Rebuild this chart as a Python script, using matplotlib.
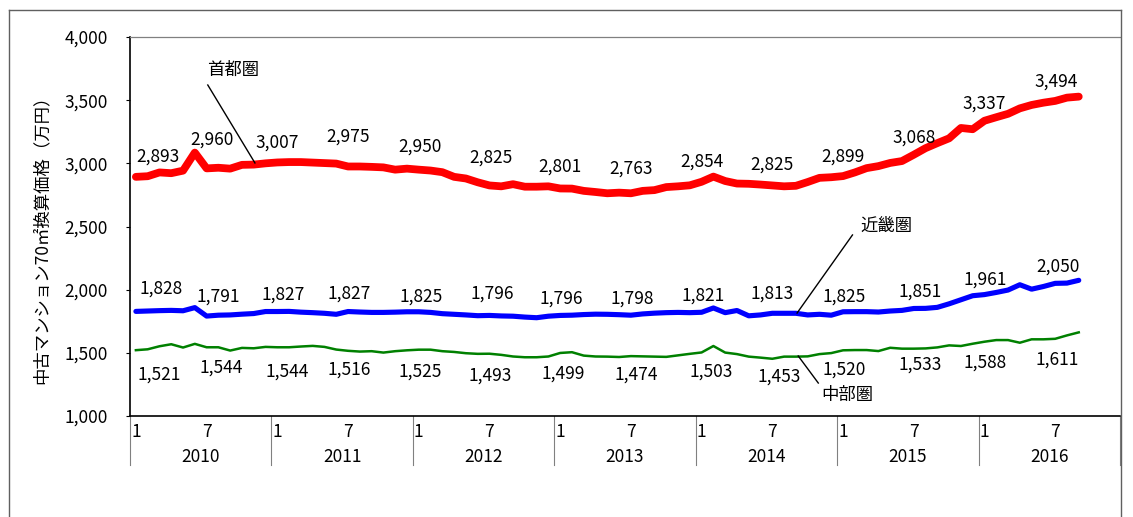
import numpy as np
import matplotlib
matplotlib.use('Agg')
import matplotlib.pyplot as plt
from matplotlib.lines import Line2D
import matplotlib.transforms as mtransforms

plt.rcParams['font.family'] = ['Noto Sans CJK JP', 'DejaVu Sans']

## data: monthly, Jan 2010 - Sep 2016
years = ['2010', '2011', '2012', '2013', '2014', '2015', '2016']
month_labels = ['1', '7']

shuto = [2893, 2898, 2928, 2922, 2942, 3085, 2960, 2965, 2958, 2988, 2990, 3000,
         3007, 3010, 3010, 3006, 3002, 2998, 2975, 2975, 2972, 2968, 2950, 2958,
         2950, 2943, 2930, 2893, 2880, 2850, 2825, 2818, 2835, 2815, 2815, 2818,
         2801, 2800, 2782, 2773, 2763, 2768, 2763, 2782, 2788, 2812, 2818, 2826,
         2854, 2895, 2860, 2840, 2838, 2832, 2825, 2818, 2822, 2852, 2885, 2890,
         2899, 2928, 2962, 2978, 3003, 3018, 3068, 3120, 3160, 3198, 3280, 3270,
         3337, 3365, 3392, 3435, 3462, 3480, 3494, 3520, 3528]

kinki = [1828, 1831, 1834, 1836, 1833, 1858, 1791, 1798, 1800, 1806, 1811, 1827,
         1827, 1828, 1822, 1818, 1813, 1805, 1827, 1823, 1820, 1820, 1822, 1825,
         1825, 1820, 1810, 1805, 1800, 1794, 1796, 1792, 1790, 1783, 1778, 1790,
         1796, 1798, 1803, 1806, 1805, 1802, 1798, 1808, 1814, 1818, 1820, 1818,
         1821, 1855, 1818, 1835, 1793, 1800, 1813, 1813, 1813, 1800, 1805, 1798,
         1825, 1826, 1826, 1823, 1831, 1836, 1851, 1852, 1860, 1888, 1920, 1952,
         1961, 1978, 1997, 2039, 2004, 2025, 2050, 2052, 2074]

chubu = [1521, 1528, 1552, 1568, 1542, 1571, 1544, 1544, 1518, 1539, 1536, 1547,
         1544, 1544, 1550, 1555, 1547, 1526, 1516, 1510, 1513, 1502, 1513, 1520,
         1525, 1525, 1513, 1507, 1497, 1492, 1493, 1484, 1471, 1465, 1465, 1471,
         1499, 1505, 1478, 1471, 1470, 1467, 1474, 1472, 1470, 1468, 1480, 1492,
         1503, 1554, 1502, 1490, 1470, 1462, 1453, 1470, 1470, 1472, 1490, 1498,
         1520, 1522, 1522, 1514, 1540, 1533, 1533, 1535, 1543, 1559, 1554, 1572,
         1588, 1601, 1601, 1580, 1607, 1607, 1611, 1638, 1662]

## label offsets in pixels (dx, dy)
red_off = [(22, 20), (5, 29), (0, 20), (0, 30), (1, 23), (1, 28), (0, 22),
           (0, 25), (0, 20), (0, 21), (0, 19), (0, 17), (0, 17), (1, 19)]
blue_off = [(25, 23), (12, 19), (6, 17), (1, 18), (2, 15), (3, 22), (1, 17),
            (1, 17), (2, 17), (0, 20), (1, 15), (6, 17), (1, 15), (3, 17)]
green_off = [(23, -24), (15, -20), (10, -24), (1, -19), (1, -22), (1, -22), (3, -21),
             (5, -19), (10, -19), (7, -18), (1, -19), (6, -16), (1, -21), (2, -21)]

FS = 12.5
W, H = 1133, 517
fig = plt.figure(figsize=(W / 100, H / 100), dpi=100)
ax = fig.add_axes([130 / W, 1 - 416 / H, 990 / W, 379 / H])

x = np.arange(len(shuto)) + 0.5
ax.plot(x, shuto, color='#ff0000', lw=5.6, solid_capstyle='round', solid_joinstyle='round')
ax.plot(x, kinki, color='#0000ff', lw=3.7, solid_capstyle='round', solid_joinstyle='round')
ax.plot(x, chubu, color='#008000', lw=1.8)

# data labels at month 1 and 7
idx = list(range(0, len(shuto), 6))
for series, offs in [(shuto, red_off), (kinki, blue_off), (chubu, green_off)]:
    for k, i in enumerate(idx):
        ax.annotate(f'{series[i]:,}', (x[i], series[i]), xytext=offs[k],
                    textcoords='offset pixels', ha='center', va='center', fontsize=FS)

ax.set_xlim(0, 12 * len(years))
ax.set_ylim(1000, 4000)
ax.set_yticks(np.arange(1000, 4001, 500))
ax.set_yticklabels([f'{v:,}' for v in np.arange(1000, 4001, 500)], fontsize=FS)
ax.tick_params(axis='y', length=3, width=0.8, pad=13)
ax.set_xticks([])

for s in ['left', 'bottom']:
    ax.spines[s].set_color('black')
    ax.spines[s].set_linewidth(1.2)
ax.spines['top'].set_color('#808080')
ax.spines['top'].set_linewidth(0.9)
ax.spines['right'].set_visible(False)

## multi-level category axis
trans = mtransforms.blended_transform_factory(ax.transData, ax.transAxes)
for j, yr in enumerate(years):
    start = 12 * j
    ax.text(start + 0.5, -0.042, month_labels[0], transform=trans, ha='center', va='center', fontsize=FS)
    ax.text(start + 6.5, -0.042, month_labels[1], transform=trans, ha='center', va='center', fontsize=FS)
    ax.text(start + 6, -0.108, yr, transform=trans, ha='center', va='center', fontsize=FS)
for j in range(len(years) + 1):
    ax.plot([12 * j, 12 * j], [0, -0.13], transform=trans, color='#808080', lw=0.8, clip_on=False)

## series names with leader lines
ax.text(8.74, 3739, '首都圏', ha='center', va='center', fontsize=FS)
ax.plot([6.6, 10.6], [3620, 3003], color='black', lw=1)
ax.text(64.2, 2504, '近畿圏', ha='center', va='center', fontsize=FS)
ax.plot([61.3, 56.6], [2433, 1815], color='black', lw=1)
ax.text(60.9, 1166, '中部圏', ha='center', va='center', fontsize=FS)
ax.plot([56.7, 58.4], [1475, 1261], color='black', lw=1)

fig.text(42 / W, 1 - 235 / H, '中古マンション70㎡換算価格（万円）', rotation=90,
         ha='center', va='center', fontsize=12.5)

## outer chart border
bl, bt, br = 9 / W, 1 - 10 / H, 1121 / W
for xs, ys in [([bl, bl], [0, bt]), ([bl, br], [bt, bt]), ([br, br], [bt, 0])]:
    fig.add_artist(Line2D(xs, ys, transform=fig.transFigure, color='#606060', lw=1))

plt.savefig('out.png', dpi=100)
